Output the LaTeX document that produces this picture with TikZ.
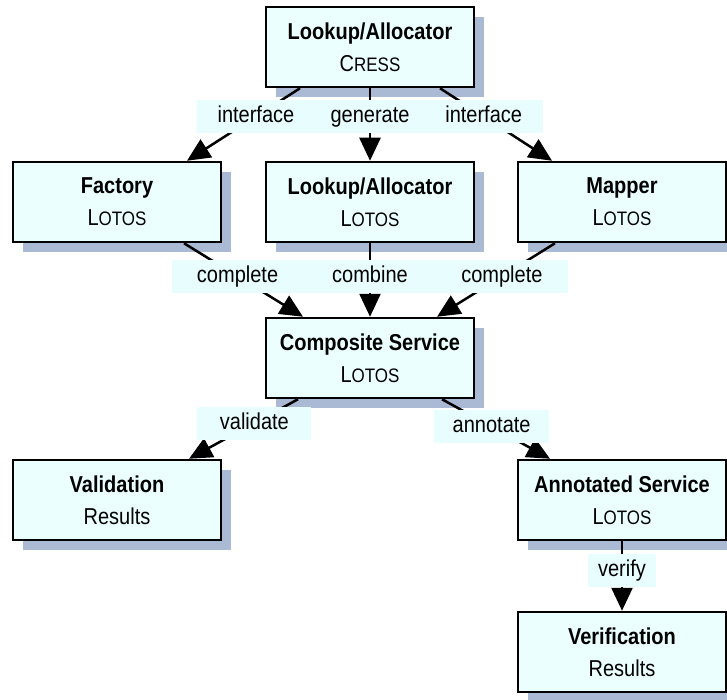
\documentclass[tikz,border=0pt]{standalone}
\usepackage{fontspec}
\setmainfont{Liberation Sans}[FakeStretch=0.87]
\usepackage{tikz}
\usetikzlibrary{arrows.meta,shadows}
\definecolor{boxcyan}{HTML}{EBFFFF}
\definecolor{labelcyan}{HTML}{E8FEFE}
\definecolor{shadowblue}{HTML}{AAB9D4}
\newcommand{\smcaps}[2]{#1{\fontsize{19.5}{19.5}\selectfont #2}}

\begin{document}
\begin{tikzpicture}[x=1pt,y=-1pt,
  block/.style={draw,line width=2.5pt,fill=boxcyan,minimum width=208pt,minimum height=80pt,
    inner sep=0pt,align=center,font=\fontsize{23}{32}\selectfont,
    drop shadow={shadow xshift=10pt,shadow yshift=-10pt,fill=shadowblue,opacity=1}},
  lbl/.style={fill=labelcyan,inner xsep=10pt,inner ysep=5.5pt,text height=17pt,text depth=5pt,
    font=\fontsize{23}{26}\selectfont},
  link/.style={line width=2.5pt,-{Triangle[length=23pt,width=21pt]}}]
  \useasboundingbox (0,0) rectangle (727,700);
  % boxes
  \node[block] (cress) at (370,47) {\textbf{Lookup/Allocator}\\\smcaps{C}{RESS}};
  \node[block] (factory) at (117,202) {\textbf{Factory}\\\smcaps{L}{OTOS}};
  \node[block] (lookup) at (370,202) {\textbf{Lookup/Allocator}\\\smcaps{L}{OTOS}};
  \node[block] (mapper) at (622,202) {\textbf{Mapper}\\\smcaps{L}{OTOS}};
  \node[block] (composite) at (370,358) {\textbf{Composite Service}\\\smcaps{L}{OTOS}};
  \node[block] (validation) at (117,500) {\textbf{Validation}\\Results};
  \node[block] (annotated) at (622,500) {\textbf{Annotated Service}\\\smcaps{L}{OTOS}};
  \node[block] (verification) at (622,652) {\textbf{Verification}\\Results};
  % connectors
  \draw[link] ([xshift=-70pt]cress.south) -- node[lbl,pos=.39,minimum width=118pt] {interface} ([xshift=70pt]factory.north);
  \draw[link] (cress) -- node[lbl,pos=.39,minimum width=118pt] {generate} (lookup);
  \draw[link] ([xshift=70pt]cress.south) -- node[lbl,pos=.39,minimum width=118pt] {interface} ([xshift=-70pt]mapper.north);
  \draw[link] ([xshift=67pt]factory.south) -- node[lbl,pos=.45,minimum width=132pt] {complete} ([xshift=-67pt]composite.north);
  \draw[link] (lookup) -- node[lbl,pos=.45,minimum width=132pt] {combine} (composite);
  \draw[link] ([xshift=-67pt]mapper.south) -- node[lbl,pos=.45,minimum width=132pt] {complete} ([xshift=67pt]composite.north);
  \draw[link] ([xshift=-72pt]composite.south) -- node[lbl,pos=.40,minimum width=114pt] {validate} ([xshift=72pt]validation.north);
  \draw[link] ([xshift=72pt]composite.south) -- node[lbl,pos=.46,minimum width=115pt] {annotate} ([xshift=-72pt]annotated.north);
  \draw[link] (annotated) -- node[lbl,pos=.42] {verify} (verification);
\end{tikzpicture}
\end{document}
